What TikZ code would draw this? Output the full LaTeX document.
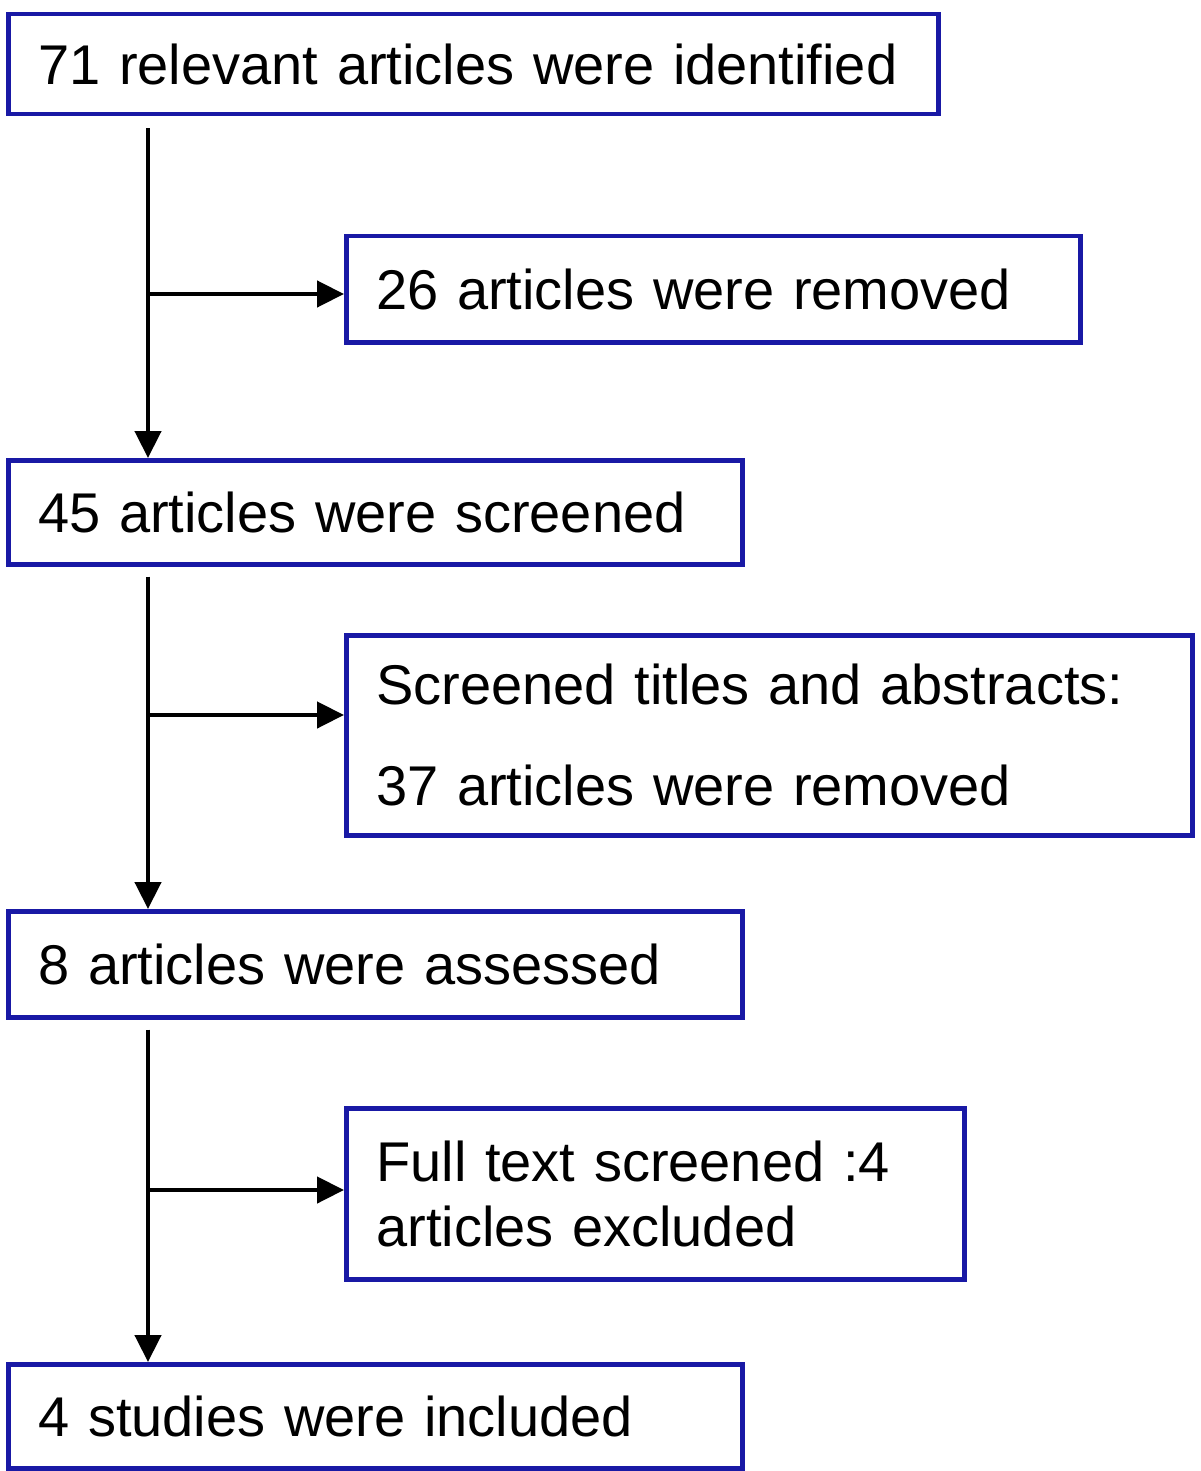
\documentclass[tikz,border=0pt]{standalone}
\usepackage{fontspec}
\setmainfont{Liberation Sans}
\usetikzlibrary{arrows.meta}
\definecolor{boxblue}{RGB}{25,25,165}
\begin{document}
\begin{tikzpicture}[x=1pt,y=-1pt,
  flowbox/.style={draw=boxblue, line width=4.5pt, rectangle, anchor=north west,
    inner xsep=30pt, inner ysep=0pt, align=left,
    font=\fontsize{56}{65}\selectfont},
  arr/.style={draw=black, line width=4.5pt, -{Triangle[length=27pt,width=26pt]}}]
\useasboundingbox[fill=white] (0,0) rectangle (1200,1471);
\node[flowbox, minimum width=930pt, minimum height=100pt, text width=870pt] (b1) at (6,12) {71 relevant articles were identified};
\node[flowbox, minimum width=734pt, minimum height=106pt, text width=674pt] (b2) at (344,234) {26 articles were removed};
\node[flowbox, minimum width=734pt, minimum height=104pt, text width=674pt] (b3) at (6,458) {45 articles were screened};
\node[flowbox, minimum width=846pt, minimum height=200pt, text width=786pt] (b4) at (344,633) {Screened titles and abstracts:\\[36pt]37 articles were removed};
\node[flowbox, minimum width=734pt, minimum height=106pt, text width=674pt] (b5) at (6,909) {8 articles were assessed};
\node[flowbox, minimum width=618pt, minimum height=171pt, text width=558pt] (b6) at (344,1106) {Full text screened :4\\articles excluded};
\node[flowbox, minimum width=734pt, minimum height=104pt, text width=674pt] (b7) at (6,1362) {4 studies were included};
% trunk junctions
\coordinate (j1) at (148,294);
\coordinate (j2) at (148,715);
\coordinate (j3) at (148,1190);
\draw[arr] ([shift={(142pt,-12pt)}]b1.south west) -- ([xshift=142pt]b3.north west);
\draw[arr] (j1) -- (j1 -| b2.west);
\draw[arr] ([shift={(142pt,-10pt)}]b3.south west) -- ([xshift=142pt]b5.north west);
\draw[arr] (j2) -- (j2 -| b4.west);
\draw[arr] ([shift={(142pt,-10pt)}]b5.south west) -- ([xshift=142pt]b7.north west);
\draw[arr] (j3) -- (j3 -| b6.west);
\end{tikzpicture}
\end{document}
